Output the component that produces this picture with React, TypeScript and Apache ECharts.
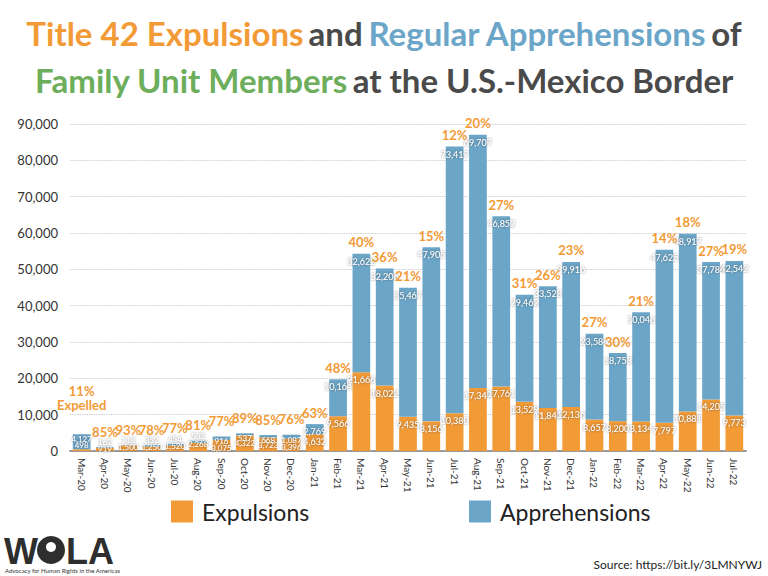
import React, { useEffect, useRef } from "react";
import * as echarts from "echarts";

const months = [
  "Mar-20", "Apr-20", "May-20", "Jun-20", "Jul-20", "Aug-20", "Sep-20", "Oct-20", "Nov-20", "Dec-20",
  "Jan-21", "Feb-21", "Mar-21", "Apr-21", "May-21", "Jun-21", "Jul-21", "Aug-21", "Sep-21", "Oct-21",
  "Nov-21", "Dec-21", "Jan-22", "Feb-22", "Mar-22", "Apr-22", "May-22", "Jun-22", "Jul-22",
];

const expulsions = [
  498, 919, 1500, 1250, 1520, 2268, 3075, 4322, 3723, 3396,
  4632, 9566, 21666, 18022, 9435, 8156, 10380, 17347, 17761, 13529,
  11845, 12136, 8657, 8200, 8134, 7797, 10881, 14205, 9773,
];

const apprehensions = [
  4127, 162, 113, 352, 454, 532, 916, 537, 668, 1087,
  2769, 10164, 32622, 32206, 35467, 47905, 73417, 69707, 46852, 29462,
  33523, 39916, 23584, 18753, 30046, 47625, 48917, 37784, 42542,
];

const expelledPct = [
  "11%", "85%", "93%", "78%", "77%", "81%", "77%", "89%", "85%", "76%",
  "63%", "48%", "40%", "36%", "21%", "15%", "12%", "20%", "27%", "31%",
  "26%", "23%", "27%", "30%", "21%", "14%", "18%", "27%", "19%",
];

const yTicks = [0, 10000, 20000, 30000, 40000, 50000, 60000, 70000, 80000, 90000];

const ORANGE = "#F29A36";
const BLUE = "#6BA6C8";
const GREEN = "#6DAE5C";
const DARK = "#4A4A4A";
const FONT = "Lato, 'Open Sans', sans-serif";

const fmt = (v: number) => v.toLocaleString("en-US");

const valueLabel = {
  show: true,
  position: "insideTop" as const,
  distance: 3,
  fontSize: 9,
  fontFamily: FONT,
  color: "#ffffff",
  textShadowColor: "rgba(60,60,60,0.8)",
  textShadowBlur: 2,
  formatter: (p: any) => fmt(p.value),
};

export default function App() {
  const ref = useRef<HTMLDivElement>(null);

  useEffect(() => {
    if (!ref.current) return;
    const chart = echarts.init(ref.current, undefined, { renderer: "svg" });

    const isSmall = (i: number) => apprehensions[i] < 1500;
    const isTiny = (i: number) => isSmall(i) && expulsions[i] + apprehensions[i] < 3000;
    const isLowBase = (i: number) => !isSmall(i) && expulsions[i] < 1000;

    const expData = expulsions.map((v, i) => {
      if (isTiny(i)) return { value: v, label: { position: "top", distance: -5, fontSize: 8 } };
      if (isSmall(i)) return { value: v, label: { position: "insideTop", distance: 4, fontSize: 8 } };
      if (isLowBase(i)) return { value: v, label: { position: "top", distance: 0, fontSize: 8 } };
      return v;
    });
    const apprData = apprehensions.map((v, i) => {
      if (isTiny(i)) return { value: v, label: { position: "top", distance: 1, fontSize: 8 } };
      if (isSmall(i)) return { value: v, label: { position: "insideTop", distance: 1, fontSize: 8 } };
      if (isLowBase(i)) return { value: v, label: { position: "insideTop", distance: 1, fontSize: 8 } };
      return v;
    });

    const pctData = expelledPct.map((_, i) => {
      if (i === 0) {
        return {
          value: 0,
          label: {
            formatter: expelledPct[0] + "\nExpelled",
            lineHeight: 14,
            distance: 22,
          },
        };
      }
      if (isSmall(i)) {
        return { value: 0, label: { distance: 9 } };
      }
      return 0;
    });

    const TS = 33;
    const titleRich = {
      o: { color: ORANGE, fontSize: TS, fontWeight: "bold" as const, fontFamily: FONT, lineHeight: 47 },
      b: { color: BLUE, fontSize: TS, fontWeight: "bold" as const, fontFamily: FONT, lineHeight: 47 },
      g: { color: GREEN, fontSize: TS, fontWeight: "bold" as const, fontFamily: FONT, lineHeight: 47 },
      d: { color: DARK, fontSize: TS, fontWeight: "bold" as const, fontFamily: FONT, lineHeight: 47 },
    };

    chart.setOption({
      animation: false,
      backgroundColor: "#ffffff",
      title: {
        left: "center",
        top: 4,
        text:
          "{o|Title 42 Expulsions} {d|and} {b|Regular Apprehensions} {d|of}\n{g|Family Unit Members} {d|at the U.S.-Mexico Border}",
        textStyle: { rich: titleRich, align: "center" },
      },
      legend: [
        {
          data: ["Expulsions"],
          left: 166,
          top: 495,
          itemWidth: 22,
          itemHeight: 22,
          itemGap: 12,
          icon: "rect",
          textStyle: { fontSize: 23, color: "#222", fontFamily: FONT, padding: [0, 0, 0, 4] },
        },
        {
          data: ["Apprehensions"],
          left: 464,
          top: 495,
          itemWidth: 22,
          itemHeight: 22,
          itemGap: 12,
          icon: "rect",
          textStyle: { fontSize: 23, color: "#222", fontFamily: FONT, padding: [0, 0, 0, 4] },
        },
      ],
      grid: { left: 70, right: 22, top: 124, bottom: 125, containLabel: false },
      xAxis: {
        type: "category",
        data: months,
        axisTick: { show: false },
        axisLine: { lineStyle: { color: "#9a9a9a", width: 2 } },
        axisLabel: {
          interval: 0,
          rotate: -90,
          fontSize: 10,
          color: "#333",
          fontFamily: FONT,
          margin: 7,
        },
      },
      yAxis: {
        type: "value",
        min: yTicks[0],
        max: yTicks[yTicks.length - 1],
        interval: 10000,
        axisLine: { show: false },
        axisTick: { show: false },
        axisLabel: {
          fontSize: 13,
          color: "#333",
          fontFamily: FONT,
          margin: 12,
          formatter: (v: number) => fmt(v),
        },
        splitLine: { lineStyle: { color: "#c8c8c8", type: "dotted", width: 1.2 } },
      },
      series: [
        {
          name: "Expulsions",
          type: "bar",
          stack: "total",
          barWidth: "76%",
          data: expData,
          itemStyle: { color: ORANGE },
          label: valueLabel,
        },
        {
          name: "Apprehensions",
          type: "bar",
          stack: "total",
          barWidth: "76%",
          data: apprData,
          itemStyle: { color: BLUE },
          label: valueLabel,
        },
        {
          name: "pct",
          type: "bar",
          stack: "total",
          barWidth: "76%",
          data: pctData,
          itemStyle: { color: "transparent" },
          label: {
            show: true,
            position: "top",
            distance: 5,
            fontSize: 13,
            fontWeight: "bold",
            fontFamily: FONT,
            color: ORANGE,
            formatter: (p: any) => expelledPct[p.dataIndex],
          },
        },
      ],
      graphic: [
        {
          type: "text",
          left: 4,
          top: 533,
          style: { text: "W", fontSize: 36, lineHeight: 30, fontWeight: "bold", fontFamily: "'Liberation Sans', Arial, sans-serif", fill: "#2e2e2e" },
        },
        {
          type: "circle",
          shape: { cx: 51, cy: 550, r: 14 },
          style: { fill: "#2e2e2e" },
        },
        {
          type: "circle",
          shape: { cx: 51, cy: 547, r: 5 },
          style: { fill: "#ffffff" },
        },
        {
          type: "text",
          left: 66,
          top: 533,
          style: { text: "LA", fontSize: 36, lineHeight: 30, fontWeight: "bold", fontFamily: "'Liberation Sans', Arial, sans-serif", fill: "#2e2e2e" },
        },
        {
          type: "text",
          left: 5,
          top: 567,
          style: { text: "Advocacy for Human Rights in the Americas", fontSize: 6, fontFamily: FONT, fill: "#333" },
        },
        {
          type: "text",
          right: 6,
          top: 558,
          style: { text: "Source: https://bit.ly/3LMNYWJ", fontSize: 12, fontWeight: "normal", fontFamily: FONT, fill: "#222" },
        },
      ],
    });

    return () => chart.dispose();
  }, []);

  return <div ref={ref} style={{ width: 768, height: 576, position: "absolute", left: 0, top: 0 }} />;
}
